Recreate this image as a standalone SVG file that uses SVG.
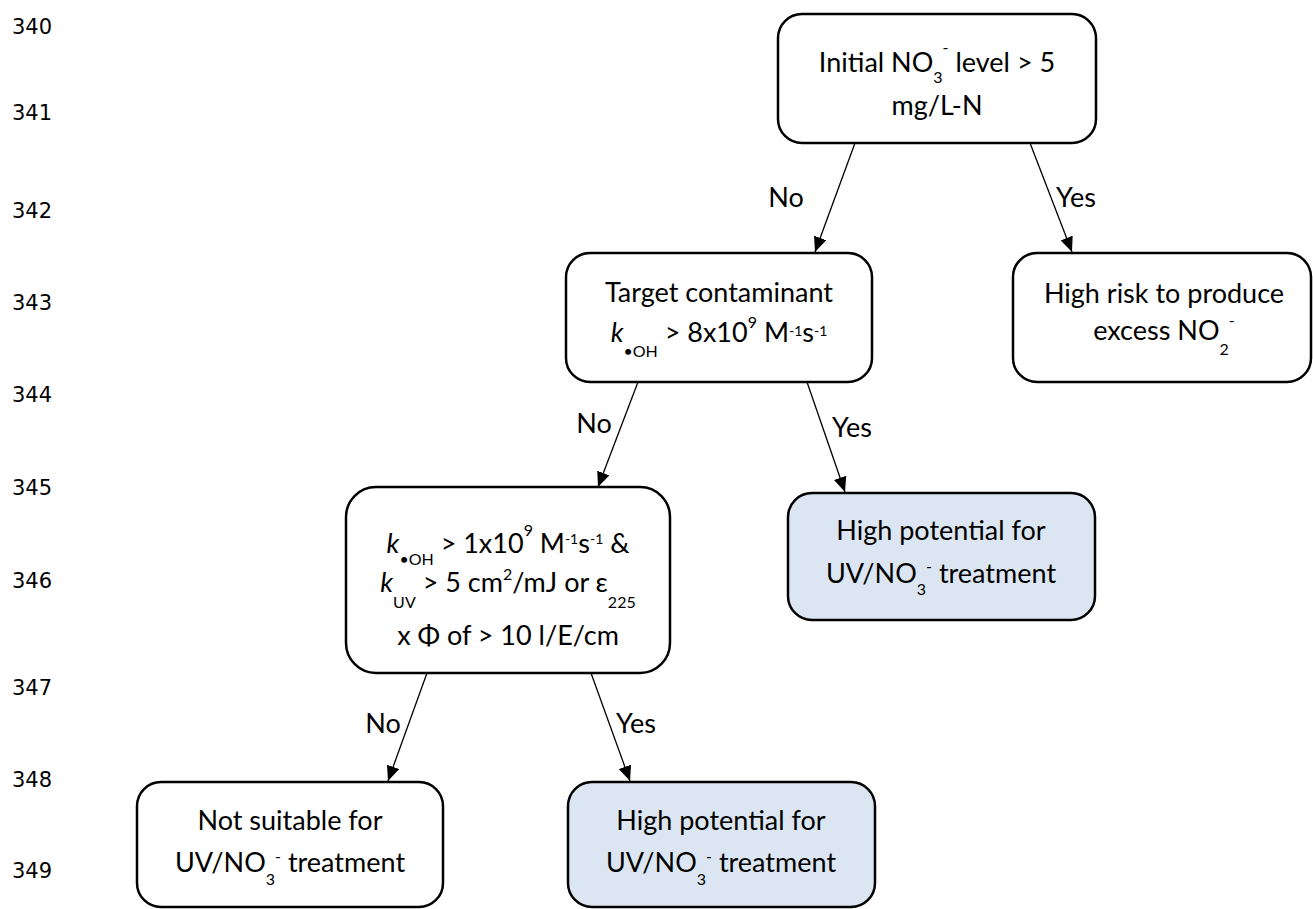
<svg xmlns="http://www.w3.org/2000/svg" width="1313" height="909" viewBox="0 0 1313 909">
<style>
.box{fill:#fff;stroke:#000;stroke-width:2.5}
.blue{fill:#dce6f2}
.t{font-family:Lato,"Open Sans","DejaVu Sans",sans-serif;font-size:27px;fill:#000;text-anchor:middle}
.lbl{font-family:Lato,"Open Sans","DejaVu Sans",sans-serif;font-size:27px;fill:#000;text-anchor:middle}
.ln{font-family:"DejaVu Sans",sans-serif;font-size:21px;fill:#000}
.s{font-size:16px}
.s1{font-size:14px}
.s2{font-size:16px}
.i{font-style:italic}
.c{stroke:#000;stroke-width:1.3;fill:none;marker-end:url(#ah)}
</style>
<defs>
<marker id="ah" markerUnits="userSpaceOnUse" markerWidth="15" markerHeight="13" refX="15" refY="6.5" orient="auto" viewBox="0 0 15 13">
<path d="M0,0 L15,6.5 L0,13 z" fill="#000"/>
</marker>
</defs>
<rect width="1313" height="909" fill="#fff"/>
<g id="line-numbers">
<text class="ln" x="12" y="34">340</text>
<text class="ln" x="12" y="120">341</text>
<text class="ln" x="12" y="218">342</text>
<text class="ln" x="12" y="310">343</text>
<text class="ln" x="12" y="402">344</text>
<text class="ln" x="12" y="495">345</text>
<text class="ln" x="12" y="588">346</text>
<text class="ln" x="12" y="695">347</text>
<text class="ln" x="12" y="787">348</text>
<text class="ln" x="12" y="878">349</text>
</g>
<g id="connectors">
<line class="c" x1="855" y1="143" x2="815" y2="252"/>
<line class="c" x1="1030" y1="143" x2="1072" y2="252"/>
<line class="c" x1="638" y1="382" x2="598" y2="487"/>
<line class="c" x1="807" y1="382" x2="845" y2="492"/>
<line class="c" x1="427" y1="673" x2="388" y2="781"/>
<line class="c" x1="591" y1="673" x2="630" y2="781"/>
<text class="lbl" x="786" y="207">No</text>
<text class="lbl" x="1076" y="207">Yes</text>
<text class="lbl" x="594" y="433">No</text>
<text class="lbl" x="852" y="437">Yes</text>
<text class="lbl" x="383" y="733">No</text>
<text class="lbl" x="636" y="733">Yes</text>
</g>
<g id="n1">
<rect class="box" x="778" y="14" width="318" height="129" rx="24"/>
<text class="t" x="937" y="72">Initial NO<tspan class="s" dy="11">3</tspan><tspan class="s" dy="-30">-</tspan><tspan dy="19"> level &gt; 5</tspan></text>
<text class="t" x="937" y="115">mg/L-N</text>
</g>
<g id="n2">
<rect class="box" x="566" y="253" width="306" height="129" rx="24"/>
<text class="t" x="719" y="302">Target contaminant</text>
<text class="t" x="719" y="342"><tspan class="i">k</tspan><tspan class="s2" dy="15">•OH</tspan><tspan dy="-15"> &gt; 8x10</tspan><tspan class="s" dy="-14">9</tspan><tspan dy="14"> M</tspan><tspan class="s1" dy="-6">-1</tspan><tspan dy="6">s</tspan><tspan class="s1" dy="-6">-1</tspan></text>
</g>
<g id="n3">
<rect class="box" x="1013" y="253" width="298" height="129" rx="24"/>
<text class="t" x="1164" y="303">High risk to produce</text>
<text class="t" x="1164" y="340">excess NO<tspan class="s" dy="15">2</tspan><tspan class="s" dy="-29">-</tspan></text>
</g>
<g id="n4">
<rect class="box" x="346" y="487" width="324" height="186" rx="30"/>
<text class="t" x="508" y="553"><tspan class="i">k</tspan><tspan class="s2" dy="12">•OH</tspan><tspan dy="-12"> &gt; 1x10</tspan><tspan class="s" dy="-17">9</tspan><tspan dy="17"> M</tspan><tspan class="s1" dy="-9">-1</tspan><tspan dy="9">s</tspan><tspan class="s1" dy="-9">-1</tspan><tspan dy="9"> &amp;</tspan></text>
<text class="t" x="508" y="592"><tspan class="i">k</tspan><tspan class="s2" dy="16">UV</tspan><tspan dy="-16"> &gt; 5 cm</tspan><tspan class="s" dy="-12">2</tspan><tspan dy="12">/mJ or ε</tspan><tspan class="s2" dy="16">225</tspan></text>
<text class="t" x="508" y="645">x Φ of &gt; 10 l/E/cm</text>
</g>
<g id="n5">
<rect class="box blue" x="788" y="493" width="307" height="127" rx="24"/>
<text class="t" x="941" y="540">High potential for</text>
<text class="t" x="941" y="583">UV/NO<tspan class="s" dy="12">3</tspan><tspan class="s" dy="-23">-</tspan><tspan dy="11"> treatment</tspan></text>
</g>
<g id="n6">
<rect class="box" x="137" y="782" width="306" height="125" rx="24"/>
<text class="t" x="290" y="830">Not suitable for</text>
<text class="t" x="290" y="872">UV/NO<tspan class="s" dy="13">3</tspan><tspan class="s" dy="-23">-</tspan><tspan dy="10"> treatment</tspan></text>
</g>
<g id="n7">
<rect class="box blue" x="568" y="782" width="307" height="125" rx="24"/>
<text class="t" x="721" y="830">High potential for</text>
<text class="t" x="721" y="872">UV/NO<tspan class="s" dy="13">3</tspan><tspan class="s" dy="-23">-</tspan><tspan dy="10"> treatment</tspan></text>
</g>
</svg>
